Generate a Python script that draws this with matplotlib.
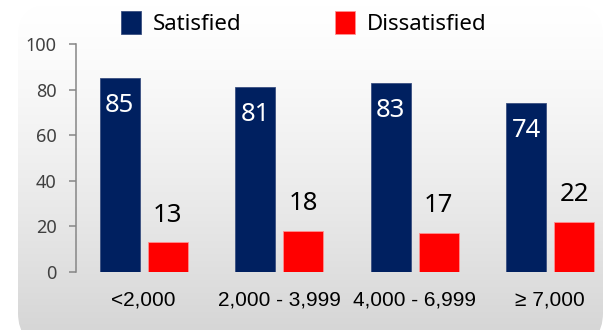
import numpy as np
import matplotlib
matplotlib.use("Agg")
import matplotlib.pyplot as plt
from matplotlib.patches import FancyBboxPatch

# monthly income bands and share of respondents
categories = ["<2,000", "2,000 - 3,999", "4,000 - 6,999", "\u2265 7,000"]
satisfied = [85, 81, 83, 74]
dissatisfied = [13, 18, 17, 22]
series_names = ["Satisfied", "Dissatisfied"]

navy = "#002060"
red = "#FF0000"
label_font = "Noto Sans"

fig = plt.figure(figsize=(6.05, 3.3), dpi=100)

# rounded grey panel behind the chart, white at the top fading to grey
bg = fig.add_axes([0, 0, 1, 1], zorder=-1)
bg.set_xlim(0, 605)
bg.set_ylim(330, 0)
bg.axis("off")
grad = np.linspace(0, 1, 256).reshape(-1, 1)
shade = 1.0 - 0.17 * grad ** 1.3
im = bg.imshow(np.dstack([shade, shade, shade]), extent=[18, 603, 345, 5],
               aspect="auto", interpolation="bilinear")
panel = FancyBboxPatch((18, 5), 585, 340, boxstyle="round,pad=0,rounding_size=32",
                       transform=bg.transData, facecolor="none", edgecolor="none")
bg.add_patch(panel)
im.set_clip_path(panel)

ax = fig.add_axes([76 / 605, 58 / 330, 542 / 605, 228 / 330])
ax.set_facecolor("none")

x = np.arange(len(categories))
w = 0.295
off = 0.177
b1 = ax.bar(x - off, satisfied, w, color=navy, edgecolor="#3a4f80", linewidth=0.6,
            label=series_names[0])
b2 = ax.bar(x + off, dissatisfied, w, color=red, edgecolor="#ff9090", linewidth=0.6,
            label=series_names[1])

for xi, v in zip(x, satisfied):
    ax.text(xi - off, v - 12, str(v), ha="center", va="center", color="white",
            fontsize=18.5, family=label_font)
for xi, v in zip(x, dissatisfied):
    ax.text(xi + off, v + 12, str(v), ha="center", va="center", color="black",
            fontsize=18.5, family=label_font)

ax.set_xlim(-0.5, 3.5)
ax.set_ylim(0, 100)
ax.set_yticks(range(0, 101, 20))
ax.set_xticks(x)
ax.set_xticklabels(categories, fontsize=15, family="Liberation Sans", color="black")
for s in ["top", "right", "bottom"]:
    ax.spines[s].set_visible(False)
ax.spines["left"].set_color("#868686")
ax.spines["left"].set_linewidth(1.1)
ax.tick_params(axis="y", direction="out", length=5, width=1.1, color="#868686",
               labelsize=13, labelcolor="#404040", pad=9)
ax.tick_params(axis="x", length=0, pad=13)
for t in ax.get_yticklabels():
    t.set_family(label_font)

fig.legend(handles=[b1, b2], loc="center", bbox_to_anchor=(0.502, 0.93), ncol=2,
           frameon=False, prop={"family": label_font, "size": 16},
           handlelength=0.9, handleheight=1.2, handletextpad=0.55, columnspacing=4.2)

fig.savefig("out.png", dpi=100)
